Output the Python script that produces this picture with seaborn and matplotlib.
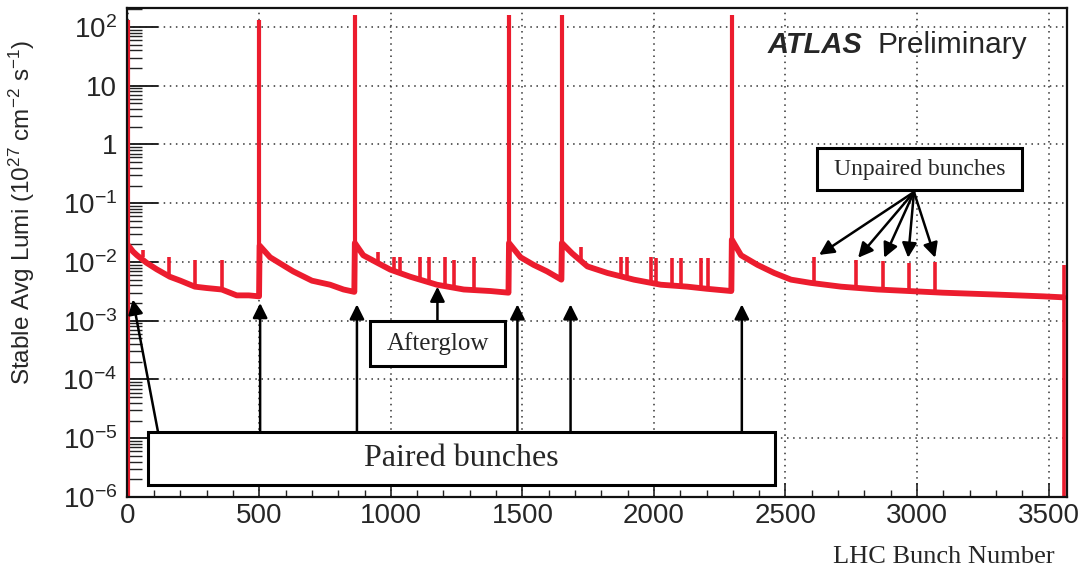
import numpy as np
import pandas as pd
import matplotlib
matplotlib.use("Agg")
import matplotlib.pyplot as plt
import seaborn as sns
from matplotlib.patches import Rectangle
from matplotlib.ticker import FixedLocator, LogLocator, MultipleLocator, NullFormatter

# ---------------- data ----------------
# afterglow baseline (bunch number, luminosity)
glow_bunch = [2, 20, 35, 71, 110, 160, 200, 255, 300, 357, 414, 460, 499,
              501, 541, 629, 700, 769, 820, 861,
              863, 895, 952, 998, 1074, 1175, 1277, 1379, 1447,
              1449, 1493, 1543, 1594, 1648,
              1650, 1689, 1747, 1823, 1924, 2026, 2127, 2200, 2294,
              2296, 2331, 2394, 2457, 2521, 2597, 2711, 2850, 3098, 3289, 3479, 3557]
glow_lumi = [1.9e-2, 1.5e-2, 1.3e-2, 9.7e-3, 7.5e-3, 5.6e-3, 4.8e-3, 3.8e-3, 3.6e-3, 3.4e-3, 2.7e-3, 2.7e-3, 2.6e-3,
             1.9e-2, 1.2e-2, 6.9e-3, 4.8e-3, 4.1e-3, 3.4e-3, 3.1e-3,
             2.1e-2, 1.3e-2, 9.5e-3, 7.4e-3, 5.6e-3, 4.1e-3, 3.4e-3, 3.2e-3, 3.0e-3,
             2.1e-2, 1.2e-2, 8.9e-3, 6.9e-3, 5.0e-3,
             2.1e-2, 1.4e-2, 8.4e-3, 6.5e-3, 5.0e-3, 4.1e-3, 3.8e-3, 3.5e-3, 3.2e-3,
             2.4e-2, 1.3e-2, 8.9e-3, 6.5e-3, 5.0e-3, 4.4e-3, 3.8e-3, 3.4e-3, 3.0e-3, 2.8e-3, 2.6e-3, 2.5e-3]

# colliding (paired) bunches
paired_bunch = [1, 500, 862, 1448, 1649, 2295]
paired_base = [1e-8, 2.6e-3, 3.1e-3, 3.0e-3, 5.0e-3, 3.2e-3]
paired_peak = [131, 131, 160, 160, 160, 160]

# small spikes inside the trains
satellite_bunch = [57, 156, 255, 357, 952, 1010, 1036, 1112, 1144, 1207, 1239, 1315,
                   1721, 1874, 1899, 1988, 2007, 2070, 2102, 2178, 2204]
satellite_base = [1.2e-2, 5.6e-3, 3.8e-3, 3.4e-3, 9.5e-3, 7.0e-3, 6.3e-3, 5.2e-3, 4.7e-3, 4.0e-3, 3.7e-3, 3.3e-3,
                  1.1e-2, 5.6e-3, 5.3e-3, 4.4e-3, 4.3e-3, 4.0e-3, 3.9e-3, 3.6e-3, 3.5e-3]
satellite_peak = [1.6e-2, 1.2e-2, 1.1e-2, 1.1e-2, 1.5e-2, 1.2e-2, 1.2e-2, 1.2e-2, 1.2e-2, 1.2e-2, 1.1e-2, 1.2e-2,
                  1.8e-2, 1.2e-2, 1.2e-2, 1.2e-2, 1.15e-2, 1.15e-2, 1.15e-2, 1.15e-2, 1.15e-2]

# unpaired bunches
unpaired_bunch = [2610, 2768, 2870, 2968, 3070]
unpaired_base = [4.3e-3, 3.7e-3, 3.4e-3, 3.2e-3, 3.1e-3]
unpaired_peak = [1.2e-2, 1.1e-2, 1.05e-2, 9.6e-3, 1.0e-2]

# last filled slot before the abort gap
gap_bunch = [3558]
gap_base = [1e-8]
gap_peak = [8.9e-3]

x_ticks = [0, 500, 1000, 1500, 2000, 2500, 3000, 3500]
y_ticks = [1e-6, 1e-5, 1e-4, 1e-3, 1e-2, 1e-1, 1, 10, 100]
y_tick_labels = ["10$^{-6}$", "10$^{-5}$", "10$^{-4}$", "10$^{-3}$", "10$^{-2}$",
                 "10$^{-1}$", "1", "10", "10$^{2}$"]

# ---------------- style ----------------
sns.set_theme(style="white")
plt.rcParams["font.family"] = ["Liberation Sans", "DejaVu Sans"]
plt.rcParams["mathtext.fontset"] = "custom"
plt.rcParams["mathtext.rm"] = "Liberation Sans"
plt.rcParams["mathtext.it"] = "Liberation Sans:italic"
plt.rcParams["mathtext.bf"] = "Liberation Sans:bold"
plt.rcParams["axes.unicode_minus"] = False

RED = "#ec1c2e"
W, H = 1079, 572
fig = plt.figure(figsize=(W / 100, H / 100), dpi=100)
L, R, T, B = 127, 1067, 8, 497
ax = fig.add_axes([L / W, 1 - B / H, (R - L) / W, (B - T) / H])

df = pd.DataFrame({"bunch": glow_bunch, "lumi": glow_lumi})
sns.lineplot(data=df, x="bunch", y="lumi", ax=ax, color=RED, lw=4.2,
             estimator=None, sort=False)
ax.vlines(paired_bunch, paired_base, paired_peak, color=RED, lw=3.0)
ax.vlines(satellite_bunch, satellite_base, satellite_peak, color=RED, lw=2.6)
ax.vlines(unpaired_bunch, unpaired_base, unpaired_peak, color=RED, lw=2.6)
ax.vlines(gap_bunch, gap_base, gap_peak, color=RED, lw=2.6)

ax.set_yscale("log")
ax.set_xlim(-3, 3570)
ax.set_ylim(1e-6, 210)

ax.xaxis.set_major_locator(FixedLocator(x_ticks))
ax.xaxis.set_minor_locator(MultipleLocator(100))
ax.yaxis.set_major_locator(FixedLocator(y_ticks))
ax.set_yticklabels(y_tick_labels)
ax.yaxis.set_minor_locator(LogLocator(base=10, subs=np.arange(2, 10)))
ax.yaxis.set_minor_formatter(NullFormatter())

ax.tick_params(axis="x", which="major", direction="in", length=10, width=1.2,
               labelsize=20, pad=4, bottom=True, top=False, color="#222222")
ax.tick_params(axis="x", which="minor", direction="in", length=5, width=1.0,
               bottom=True, top=False, color="#222222")
ax.tick_params(axis="y", which="major", direction="in", length=22, width=1.4,
               labelsize=20, pad=7, left=True, right=False, color="#222222")
ax.tick_params(axis="y", which="minor", direction="in", length=11, width=1.0,
               left=True, right=False, color="#222222")

ax.grid(True, which="major", linestyle=(0, (1, 3)), color="#333333", lw=1.1)
for s in ax.spines.values():
    s.set_color("#111111")
    s.set_linewidth(1.6)

ax.set_xlabel("")
ax.set_ylabel("Stable Avg Lumi (10$^{27}$ cm$^{-2}$ s$^{-1}$)", fontsize=17.5)
ax.yaxis.set_label_coords((37 - L) / (R - L), (B - 212) / (B - T))

fig.text(1055 / W, 1 - 557 / H, "LHC Bunch Number", ha="right", va="center",
         family=["Liberation Serif"], fontsize=19)
fig.text(768 / W, 1 - 45 / H, "ATLAS", ha="left", va="center",
         fontsize=21, fontweight="bold", fontstyle="italic")
fig.text(878 / W, 1 - 45 / H, "Preliminary", ha="left", va="center", fontsize=21.5)


def ax_x(px):
    return (px - L) / (R - L)


def ax_y(py):
    return (B - py) / (B - T)


def box(px0, py0, px1, py1, text, size):
    ax.add_patch(Rectangle((ax_x(px0), ax_y(py1)), ax_x(px1) - ax_x(px0), ax_y(py0) - ax_y(py1),
                           transform=ax.transAxes, facecolor="white", edgecolor="black",
                           lw=2.2, zorder=5, clip_on=False))
    ax.text((ax_x(px0) + ax_x(px1)) / 2, (ax_y(py0) + ax_y(py1)) / 2, text,
            transform=ax.transAxes, ha="center", va="center", fontsize=size,
            family=["Liberation Serif"], zorder=6)


arrow = dict(arrowstyle="-|>", color="black", lw=1.8, mutation_scale=22, shrinkA=0, shrinkB=0)

# paired bunch arrows
paired_tips = [(19, 2.3e-3, 0.033), (503, 2.0e-3, None), (871, 1.9e-3, None),
               (1481, 1.9e-3, None), (1683, 1.9e-3, None), (2334, 1.9e-3, None)]
for xb, yv, tx in paired_tips:
    if tx is None:
        ax.annotate("", xy=(xb, yv), xycoords="data",
                    xytext=(xb, ax_y(432)), textcoords=("data", "axes fraction"),
                    arrowprops=arrow, zorder=4)
    else:
        ax.annotate("", xy=(xb, yv), xycoords="data",
                    xytext=(tx, ax_y(432)), textcoords="axes fraction",
                    arrowprops=arrow, zorder=4)

# afterglow arrow
ax.annotate("", xy=(1177, 3.8e-3), xycoords="data",
            xytext=(1177, ax_y(321)), textcoords=("data", "axes fraction"),
            arrowprops=arrow, zorder=4)

# unpaired arrows
for xb, yv in zip([2628, 2776, 2875, 2966, 3069], [1.32e-2, 1.18e-2, 1.18e-2, 1.18e-2, 1.18e-2]):
    ax.annotate("", xy=(xb, yv), xycoords="data",
                xytext=(ax_x(914), ax_y(192)), textcoords="axes fraction",
                arrowprops=arrow, zorder=4)

box(148, 432, 775, 485, "Paired bunches", 23)
box(370, 321, 505, 366, "Afterglow", 18)
box(817, 148, 1022, 190, "Unpaired bunches", 17)

fig.savefig("out.png", dpi=100)
